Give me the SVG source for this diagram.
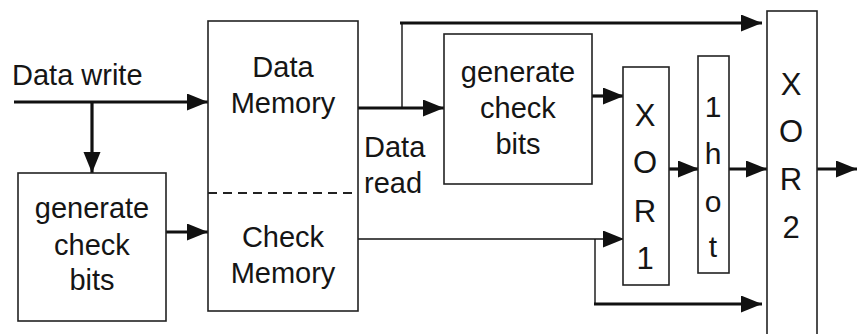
<svg xmlns="http://www.w3.org/2000/svg" width="857" height="334" viewBox="0 0 857 334">
  <style>
    .box { fill: #fff; stroke: #222; stroke-width: 1.6; }
    .thick { fill: none; stroke: #111; stroke-width: 3.2; }
    .thin { fill: none; stroke: #111; stroke-width: 1.4; }
    .arr { marker-end: url(#head); }
    text { font-family: "Liberation Sans", Arial, sans-serif; font-size: 29px; fill: #151515; }
    .c { text-anchor: middle; }
    .big { font-size: 31px; }
    .mid { font-size: 30px; }
  </style>
  <defs>
    <marker id="head" markerUnits="userSpaceOnUse" markerWidth="22" markerHeight="18" refX="21" refY="8.5" orient="auto">
      <path d="M0,0 L21,8.5 L0,17 z" fill="#111"/>
    </marker>
  </defs>

  <!-- connectors -->
  <g id="connectors">
    <path class="thick arr" d="M14,102 H208"/>
    <path class="thick arr" d="M92,102 V173"/>
    <path class="thick arr" d="M163,232 H208"/>
    <path class="thick arr" d="M358,108 H444"/>
    <path class="thin" d="M402,108 V22"/>
    <path class="thick arr" d="M400,23 H762"/>
    <path class="thick arr" d="M592,96 H624"/>
    <path class="thin arr" d="M358,239 H624"/>
    <path class="thin" d="M595,239 V304"/>
    <path class="thick arr" d="M594,304 H762"/>
    <path class="thick arr" d="M669,169 H699"/>
    <path class="thick arr" d="M729,169 H767"/>
    <path class="thick arr" d="M817,169 H857"/>
  </g>

  <text x="12" y="85">Data write</text>
  <text x="364" y="157">Data</text>
  <text x="364" y="193">read</text>

  <g id="memory">
    <rect class="box" x="208" y="21" width="150" height="290"/>
    <path d="M208,193 H358" stroke="#222" stroke-width="2" stroke-dasharray="9,6" fill="none"/>
    <text class="c" x="283" y="77">Data</text>
    <text class="c" x="283" y="113">Memory</text>
    <text class="c" x="283" y="247">Check</text>
    <text class="c" x="283" y="283">Memory</text>
  </g>

  <g id="gen-write">
    <rect class="box" x="18" y="173" width="148" height="148"/>
    <text class="c" x="92" y="218">generate</text>
    <text class="c" x="92" y="255">check</text>
    <text class="c" x="92" y="290">bits</text>
  </g>

  <g id="gen-read">
    <rect class="box" x="444" y="34" width="148" height="150"/>
    <text class="c" x="518" y="82">generate</text>
    <text class="c" x="518" y="118">check</text>
    <text class="c" x="518" y="154">bits</text>
  </g>

  <g id="xor1">
    <rect class="box" x="623" y="67" width="46" height="218"/>
    <text class="c big" x="645" y="126">X</text>
    <text class="c big" x="645" y="173">O</text>
    <text class="c big" x="645" y="222">R</text>
    <text class="c big" x="645" y="269">1</text>
  </g>

  <g id="onehot">
    <rect class="box" x="698" y="56" width="31" height="217"/>
    <text class="c mid" x="713" y="117">1</text>
    <text class="c mid" x="713" y="164">h</text>
    <text class="c mid" x="713" y="212">o</text>
    <text class="c mid" x="713" y="257">t</text>
  </g>

  <g id="xor2">
    <rect class="box" x="767" y="11" width="50" height="340"/>
    <text class="c big" x="791" y="95">X</text>
    <text class="c big" x="791" y="142">O</text>
    <text class="c big" x="791" y="190">R</text>
    <text class="c big" x="791" y="238">2</text>
  </g>
</svg>
